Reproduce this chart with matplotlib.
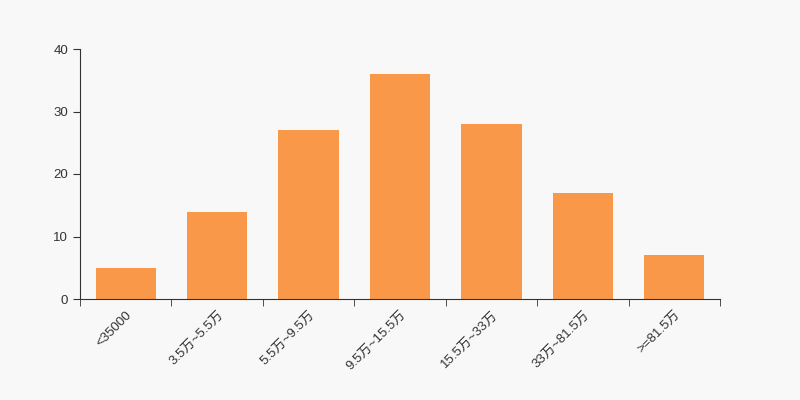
import matplotlib
matplotlib.use("Agg")
import matplotlib.pyplot as plt
import numpy as np

plt.rcParams['font.family'] = ['Liberation Sans', 'Noto Sans CJK SC', 'DejaVu Sans']

categories = ["<35000", "3.5万~5.5万", "5.5万~9.5万", "9.5万~15.5万",
              "15.5万~33万", "33万~81.5万", ">=81.5万"]
counts = [5, 14, 27, 36, 28, 17, 7]

bg = "#f8f8f8"
fig = plt.figure(figsize=(8, 4), dpi=100, facecolor=bg)
ax = fig.add_axes([0.1, 0.2525, 0.8, 0.625], facecolor=bg)

x = np.arange(len(categories))
ax.bar(x, counts, width=0.66, color="#f89848", zorder=2)

ax.set_xlim(-0.5, len(categories) - 0.5)
ax.set_ylim(0, 40)
ax.set_yticks([0, 10, 20, 30, 40])

ax.set_xticks(x)
ax.set_xticklabels(categories, rotation=45, ha="right", rotation_mode="anchor",
                   fontsize=9.5, color="#333333")
ax.tick_params(axis="x", which="major", length=0, pad=7)
ax.set_xticks(np.arange(-0.5, len(categories)), minor=True)
ax.tick_params(axis="x", which="minor", length=5, color="#333333")
ax.tick_params(axis="y", length=5, color="#333333", labelsize=9.5, labelcolor="#333333")

for s in ["top", "right"]:
    ax.spines[s].set_visible(False)
for s in ["left", "bottom"]:
    ax.spines[s].set_color("#333333")

fig.savefig("out.png", dpi=100, facecolor=bg)
